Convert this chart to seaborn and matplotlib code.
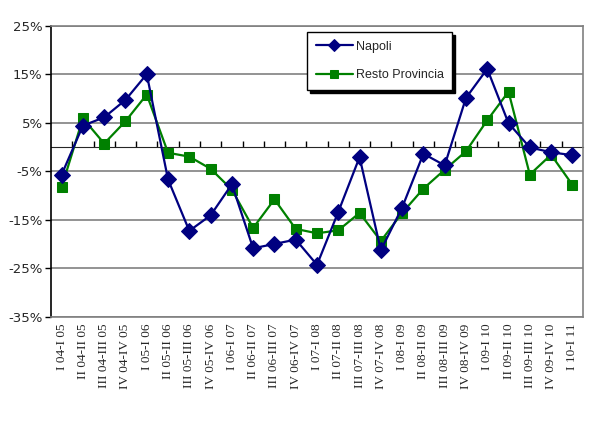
import numpy as np
import pandas as pd
import matplotlib
matplotlib.use("Agg")
import matplotlib.pyplot as plt
import seaborn as sns
from matplotlib.ticker import FuncFormatter, FixedLocator

# ── Data ──────────────────────────────────────────────────────────────────────
periods = ["I 04-I 05", "II 04-II 05", "III 04-III 05", "IV 04-IV 05",
           "I 05-I 06", "II 05-II 06", "III 05-III 06", "IV 05-IV 06",
           "I 06-I 07", "II 06-II 07", "III 06-III 07", "IV 06-IV 07",
           "I 07-I 08", "II 07-II 08", "III 07-III 08", "IV 07-IV 08",
           "I 08-I 09", "II 08-II 09", "III 08-III 09", "IV 08-IV 09",
           "I 09-I 10", "II 09-II 10", "III 09-III 10", "IV 09-IV 10",
           "I 10-I 11"]
napoli = [-5.7, 4.4, 6.1, 9.7, 15.0, -6.7, -17.3, -14.1, -7.7, -20.9,
          -20.0, -19.1, -24.3, -13.4, -2.1, -21.3, -12.5, -1.4, -3.8, 10.1,
          16.1, 4.9, -0.1, -1.1, -1.7]
resto = [-8.3, 5.9, 0.7, 5.3, 10.8, -1.2, -2.0, -4.5, -8.8, -16.7,
         -10.8, -16.9, -17.8, -17.2, -13.6, -19.4, -13.6, -8.6, -4.7, -0.9,
         5.5, 11.4, -5.7, -1.6, -7.8]
y_ticks = [-35, -25, -15, -5, 5, 15, 25]

NAVY = "#000080"
GREEN = "#008000"
GRID = "#808080"

sns.set_style("white")
plt.rcParams["font.family"] = ["DejaVu Sans"]

idx = np.arange(len(periods))
df = pd.DataFrame({"pos": idx, "Napoli": napoli, "Resto Provincia": resto})

fig = plt.figure(figsize=(5.89, 4.25), dpi=100)
ax = fig.add_axes([51 / 589, 1 - 316.7 / 425, 532 / 589, 291 / 425])

sns.lineplot(data=df, x="pos", y="Napoli", ax=ax, color=NAVY, marker="D",
             markersize=8, markeredgecolor=NAVY, lw=1.6, label="Napoli", zorder=4)
sns.lineplot(data=df, x="pos", y="Resto Provincia", ax=ax, color=GREEN, marker="s",
             markersize=6.5, markeredgecolor=GREEN, lw=1.6, label="Resto Provincia",
             zorder=3)

ax.set_xlim(-0.5, len(periods) - 0.5)
ax.set_ylim(-35, 25)
ax.set_yticks(y_ticks)
ax.yaxis.set_major_formatter(FuncFormatter(lambda v, _: f"{int(v)}%"))
ax.tick_params(axis="y", direction="out", length=4, width=1, color="black",
               labelsize=9.5, pad=2, left=True)
ax.yaxis.grid(True, color=GRID, lw=1.2)
ax.set_axisbelow(True)

ax.set_xticks(idx)
ax.set_xticklabels(periods, rotation=90, family="Liberation Serif", fontsize=9.5)
ax.tick_params(axis="x", length=0, pad=5)
ax.set_xlabel("")
ax.set_ylabel("")

for side in ["top", "right", "bottom"]:
    ax.spines[side].set_color(GRID)
    ax.spines[side].set_linewidth(1.2)
ax.spines["left"].set_color("black")
ax.spines["left"].set_linewidth(1.2)

# x axis crossing at 0% with category tick marks
sec = ax.secondary_xaxis(35 / 60)
sec.xaxis.set_major_locator(FixedLocator(idx[:-1] + 0.5))
sec.tick_params(axis="x", direction="out", length=4, width=1, color="black",
                labelbottom=False, labeltop=False)
sec.spines["bottom"].set_color("black")
sec.spines["bottom"].set_linewidth(1.2)

leg = ax.legend(loc="upper left", bbox_to_anchor=(0.481, 0.978), borderaxespad=0,
                frameon=True, fancybox=False, edgecolor="black",
                shadow={"color": "black", "alpha": 1},
                prop={"family": "Liberation Sans", "size": 9},
                labelspacing=1.3, handlelength=3.0, handletextpad=0.2,
                borderpad=0.7)
leg.get_frame().set_linewidth(1)
for h, ms in zip(leg.legend_handles, [6, 6]):
    h.set_markersize(ms)

fig.savefig("out.png", dpi=100, facecolor="white")
